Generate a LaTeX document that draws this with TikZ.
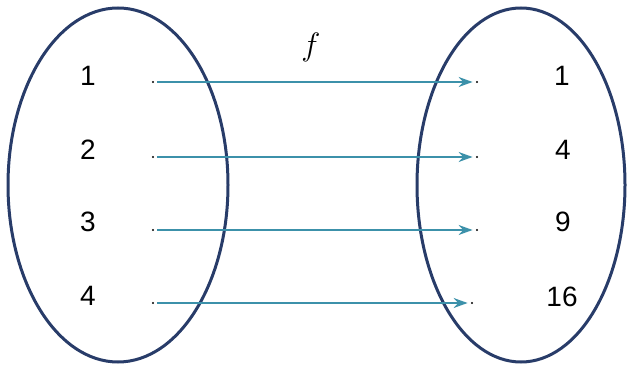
\documentclass[tikz,border=0pt]{standalone}
\usepackage{fontspec}
\setmainfont{Liberation Sans}
\usetikzlibrary{arrows.meta}
\definecolor{ellcol}{RGB}{40,60,105}
\definecolor{arrcol}{RGB}{60,145,170}
\tikzset{
  setell/.style={draw=ellcol, line width=3pt},
  num/.style={font=\fontsize{28}{32}\selectfont, inner sep=0pt},
  pt/.style={circle, fill=black, inner sep=0pt, minimum size=2.4pt},
  maparrow/.style={draw=arrcol, line width=1.5pt, -{Stealth[length=14pt,width=10pt]}, shorten <=3pt, shorten >=3pt}
}
\begin{document}
\begin{tikzpicture}[x=1pt,y=-1pt]
\useasboundingbox (0,0) rectangle (629,366);
\draw[setell] (118,185) ellipse [x radius=110, y radius=177];
\draw[setell] (521,185) ellipse [x radius=104, y radius=177];
\node[num] (a1) at (88,76) {1};
\node[num] (a2) at (88,150) {2};
\node[num] (a3) at (88,222) {3};
\node[num] (a4) at (88,296) {4};
\node[num] (b1) at (562,76) {1};
\node[num] (b2) at (563,150) {4};
\node[num] (b3) at (563,222) {9};
\node[num] (b4) at (562,297) {16};
\node[pt] (p1) at (153,82) {};
\node[pt] (p2) at (153,157) {};
\node[pt] (p3) at (153,230) {};
\node[pt] (p4) at (153,303) {};
\node[pt] (q1) at (477,82) {};
\node[pt] (q2) at (477,157) {};
\node[pt] (q3) at (477,230) {};
\node[pt] (q4) at (472,303) {};
\draw[maparrow] (p1) -- (q1);
\draw[maparrow] (p2) -- (q2);
\draw[maparrow] (p3) -- (q3);
\draw[maparrow] (p4) -- (q4);
\node[font=\fontsize{24}{28}\selectfont, scale=1.3, inner sep=0pt] (f) at (311,47) {$f$};
\end{tikzpicture}
\end{document}
